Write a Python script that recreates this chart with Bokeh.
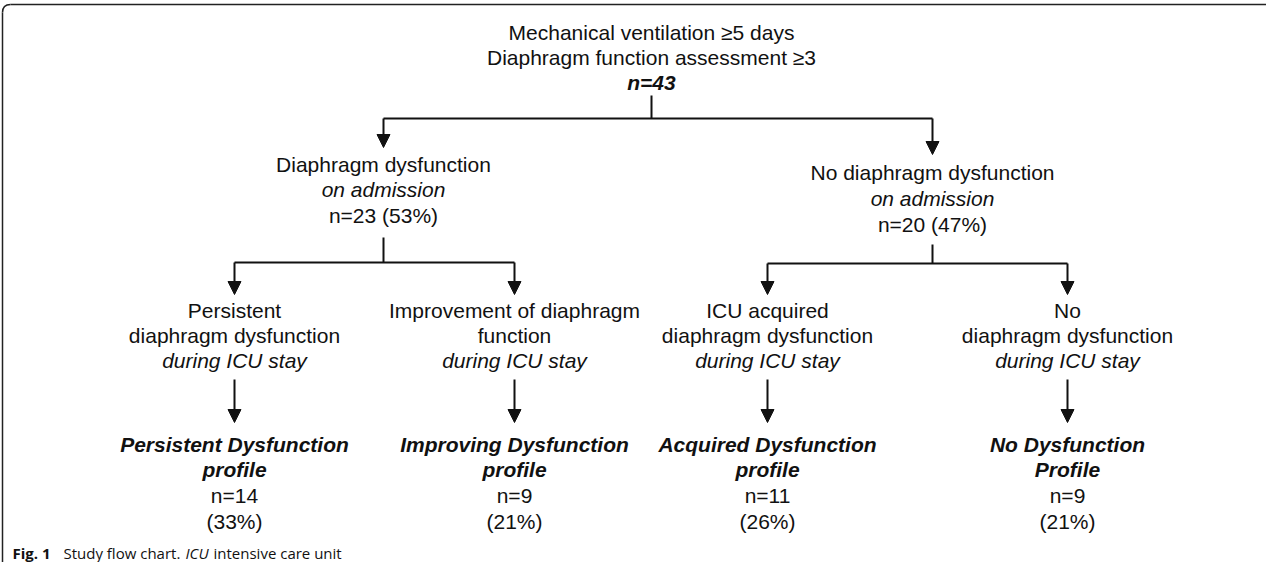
from bokeh.plotting import figure
from bokeh.models import Range1d, Arrow, NormalHead
from bokeh.core.properties import value
from bokeh.embed import file_html
from bokeh.resources import INLINE

# ---- data ----
total_n = 43
level1_names = ["Diaphragm dysfunction", "No diaphragm dysfunction"]
level1_n = [23, 20]
level1_pct = [53, 47]
level2_lines = [
    ["Persistent", "diaphragm dysfunction"],
    ["Improvement of diaphragm", "function"],
    ["ICU acquired", "diaphragm dysfunction"],
    ["No", "diaphragm dysfunction"],
]
level3_names = [
    ["Persistent Dysfunction", "profile"],
    ["Improving Dysfunction", "profile"],
    ["Acquired Dysfunction", "profile"],
    ["No Dysfunction", "Profile"],
]
level3_n = [14, 9, 11, 9]
level3_pct = [33, 21, 26, 21]

# ---- layout (page pixel coordinates) ----
W, H = 1266, 562
p = figure(width=W, height=H, output_backend="svg", toolbar_location=None,
           x_range=Range1d(8, 8 + W), y_range=Range1d(8 + H, 8),
           x_axis_type=None, y_axis_type=None, min_border=0,
           outline_line_color=None, background_fill_color="white")
p.grid.visible = False

FONT = value("Liberation Sans")
FS = "21px"
LC = "#111111"
LW = 2


def txt(x, y, s, style="normal", size=FS, font=FONT, align="center"):
    p.text(x=[x], y=[y], text=[s], text_font=font, text_font_size=size,
           text_font_style=style, text_align=align, text_baseline="middle",
           text_color="#111111")


def seg(x0, y0, x1, y1):
    p.segment(x0=[x0], y0=[y0], x1=[x1], y1=[y1], line_color=LC, line_width=LW)


def arrow(x, y0, y1):
    p.add_layout(Arrow(end=NormalHead(size=13, fill_color=LC, line_color=LC, line_width=1),
                       x_start=x, y_start=y0, x_end=x, y_end=y1,
                       line_color=LC, line_width=LW))


# frame
p.line(x=[18, 1290], y=[12, 12], line_color="#222222", line_width=1.5)
p.line(x=[10, 10], y=[20, 590], line_color="#222222", line_width=1.5)
p.quadratic(x0=[10], y0=[20], x1=[18], y1=[12], cx=[10], cy=[12],
            line_color="#222222", line_width=1.5)

# top node
top_x = 659
txt(top_x, 40, "Mechanical ventilation \u22655 days")
txt(top_x, 65, "Diaphragm function assessment \u22653")
txt(top_x, 90, f"n={total_n}", style="bold italic")

l1_x = [391, 940]
l1_y = [[172, 197, 223], [180, 206, 232]]
l1_tip = [155, 162]
seg(top_x, 103, top_x, 126)
seg(l1_x[0], 126, l1_x[1], 126)
for i in range(2):
    arrow(l1_x[i], 126, l1_tip[i])
    ys = l1_y[i]
    txt(l1_x[i], ys[0], level1_names[i])
    txt(l1_x[i], ys[1], "on admission", style="italic")
    txt(l1_x[i], ys[2], f"n={level1_n[i]} ({level1_pct[i]}%)")

l2_x = [242, 522, 775, 1075]
l2_y = [318, 343, 368]
bar_y = [270, 271]
stem_top = [245, 252]
for i in range(2):
    seg(l1_x[i], stem_top[i], l1_x[i], bar_y[i])
    a, b = l2_x[2 * i], l2_x[2 * i + 1]
    seg(a, bar_y[i], b, bar_y[i])
    arrow(a, bar_y[i], 302)
    arrow(b, bar_y[i], 302)

for j in range(4):
    x = l2_x[j]
    txt(x, l2_y[0], level2_lines[j][0])
    txt(x, l2_y[1], level2_lines[j][1])
    txt(x, l2_y[2], "during ICU stay", style="italic")
    arrow(x, 387, 430)
    txt(x, 452, level3_names[j][0], style="bold italic")
    txt(x, 477, level3_names[j][1], style="bold italic")
    txt(x, 503, f"n={level3_n[j]}")
    txt(x, 529, f"({level3_pct[j]}%)")

# caption
CF = value("Open Sans")
CS = "15px"
txt(20, 560, "Fig. 1", style="bold", size=CS, font=CF, align="left")
txt(71, 560, "Study flow chart.", size=CS, font=CF, align="left")
txt(193, 560, "ICU", style="italic", size=CS, font=CF, align="left")
txt(221, 560, "intensive care unit", size=CS, font=CF, align="left")

open("out.html", "w").write(file_html(p, INLINE))
